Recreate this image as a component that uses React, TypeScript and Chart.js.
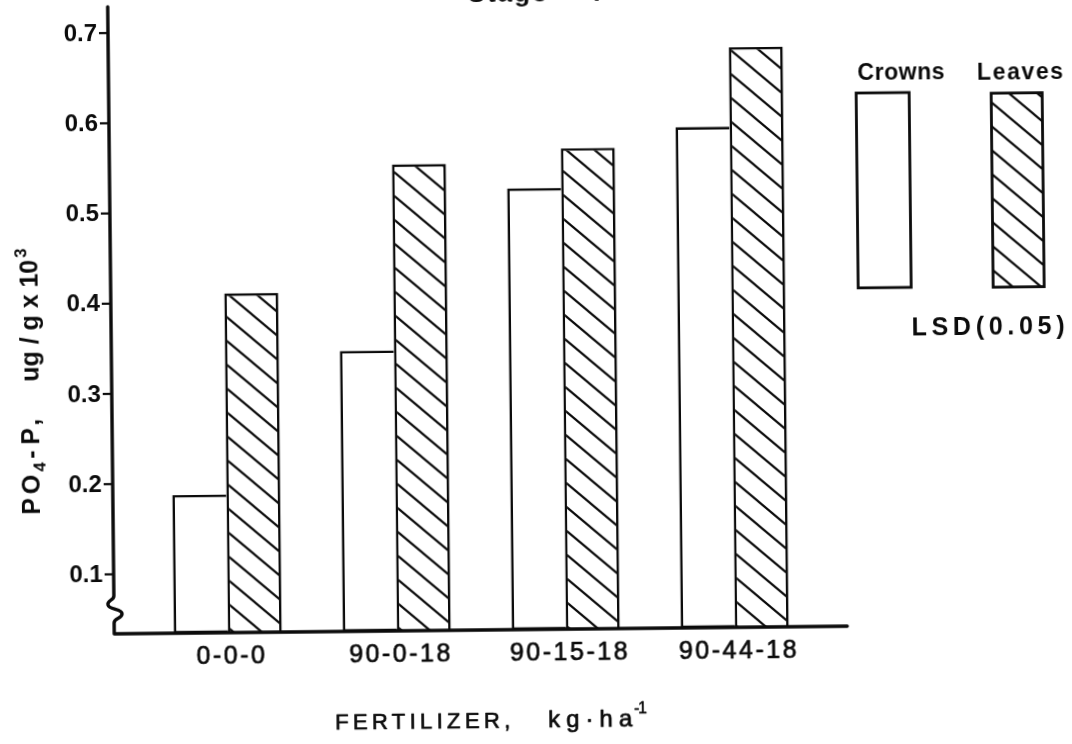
import { useEffect, useRef } from 'react';
import { Chart, registerables } from 'chart.js';

Chart.register(...registerables);

// Fertilizer treatments (N-P-K, kg/ha)
const CATEGORIES = ['0-0-0', '90-0-18', '90-15-18', '90-44-18'];
// PO4-P concentration, ug/g x 10^3
const CROWNS = [0.187, 0.345, 0.523, 0.589];
const LEAVES = [0.41, 0.551, 0.567, 0.677];
const SERIES = ['Crowns', 'Leaves'];
// Least significant difference (0.05) for each tissue
const LSD_05 = [0.216, 0.215];
const Y_TICKS = [0.1, 0.2, 0.3, 0.4, 0.5, 0.6, 0.7];
const Y_MIN = 0.034;
const Y_MAX = 0.729;

const INK = '#0b0b0b';
const FONT = '"Liberation Sans", "DejaVu Sans", sans-serif';

function hatchPattern(): CanvasPattern {
  const w = 28;
  const h = 24;
  const c = document.createElement('canvas');
  c.width = w;
  c.height = h;
  const g = c.getContext('2d')!;
  g.fillStyle = '#ffffff';
  g.fillRect(0, 0, w, h);
  g.strokeStyle = INK;
  g.lineWidth = 2.2;
  for (let k = -1; k <= 1; k++) {
    g.beginPath();
    g.moveTo(-w, -h + k * h);
    g.lineTo(2 * w, 2 * h + k * h);
    g.stroke();
  }
  return g.createPattern(c, 'repeat')!;
}

// Draws text spread by letter spacing so that it spans a given width.
function spaced(
  ctx: CanvasRenderingContext2D,
  text: string,
  x: number,
  y: number,
  width: number,
  align: 'left' | 'center' | 'right',
  weight = 0
) {
  ctx.save();
  (ctx as any).letterSpacing = '0px';
  const natural = ctx.measureText(text).width;
  const n = [...text].length;
  const ls = n > 1 ? (width - natural) / (n - 1) : 0;
  (ctx as any).letterSpacing = `${ls}px`;
  const left = align === 'left' ? x : align === 'center' ? x - width / 2 : x - width;
  ctx.textAlign = 'left';
  ctx.fillText(text, left, y);
  if (weight > 0) {
    ctx.lineWidth = weight;
    ctx.strokeStyle = ctx.fillStyle;
    ctx.strokeText(text, left, y);
  }
  ctx.restore();
}

const paperPlugin = {
  id: 'paper',
  beforeDraw(chart: any) {
    const { ctx, width, height } = chart;
    ctx.save();
    ctx.fillStyle = '#ffffff';
    ctx.fillRect(0, 0, width, height);
    ctx.restore();
  },
};

const makeFigurePlugin = (hatch: CanvasPattern) => ({
  id: 'figure',
  afterDatasetsDraw(chart: any) {
    const { ctx, scales, chartArea } = chart;
    const xs = scales.x;
    const ys = scales.y;
    const bottom = chartArea.bottom;
    const ax = 111;

    ctx.save();
    ctx.strokeStyle = INK;
    ctx.fillStyle = INK;

    // axes, with a break mark on the value axis
    ctx.lineWidth = 3.4;
    ctx.lineJoin = 'round';
    ctx.lineCap = 'round';
    ctx.beginPath();
    ctx.moveTo(ax, 3);
    ctx.lineTo(ax, 592);
    ctx.bezierCurveTo(ax, 597, 104, 596, 105, 601);
    ctx.bezierCurveTo(106, 606, 119, 605, 119, 610);
    ctx.bezierCurveTo(119, 615, ax, 614, ax, 619);
    ctx.lineTo(ax, bottom);
    ctx.lineTo(844, bottom);
    ctx.stroke();

    // value ticks
    ctx.lineWidth = 2.2;
    ctx.lineCap = 'butt';
    ctx.font = `bold 24px ${FONT}`;
    ctx.textAlign = 'right';
    ctx.textBaseline = 'middle';
    Y_TICKS.forEach((v) => {
      const py = ys.getPixelForValue(v);
      ctx.beginPath();
      ctx.moveTo(102, py);
      ctx.lineTo(ax, py);
      ctx.stroke();
      ctx.fillText(v.toFixed(1), 100, py + 1);
    });

    // category labels
    ctx.font = `25px ${FONT}`;
    ctx.textAlign = 'center';
    ctx.textBaseline = 'middle';
    ctx.lineWidth = 0.7;
    (ctx as any).letterSpacing = '2.5px';
    CATEGORIES.forEach((c, i) => {
      const px = xs.getPixelForValue(i) + 4;
      ctx.fillText(c, px, 654);
      ctx.strokeText(c, px, 654);
    });
    (ctx as any).letterSpacing = '0px';

    // x title
    ctx.textBaseline = 'alphabetic';
    ctx.font = `22px ${FONT}`;
    spaced(ctx, 'FERTILIZER,', 331, 728, 175, 'left', 0.7);
    ctx.font = `24px ${FONT}`;
    spaced(ctx, 'kg\u00b7ha', 544, 728, 84, 'left', 0.7);
    ctx.font = `16px ${FONT}`;
    spaced(ctx, '-1', 630, 715, 13, 'left', 0.5);

    // y title (rotated, reads bottom to top)
    ctx.save();
    ctx.translate(31, 510);
    ctx.rotate(-Math.PI / 2);
    ctx.textBaseline = 'middle';
    ctx.font = `bold 25px ${FONT}`;
    spaced(ctx, 'PO', 0, 0, 40, 'left');
    ctx.font = `bold 17px ${FONT}`;
    spaced(ctx, '4', 43, 8, 10, 'left');
    ctx.font = `bold 25px ${FONT}`;
    spaced(ctx, '-P,', 56, 0, 40, 'left');
    spaced(ctx, 'ug / g x 10', 133, 0, 122, 'left');
    ctx.font = `bold 17px ${FONT}`;
    spaced(ctx, '3', 257, -9, 10, 'left');
    ctx.restore();

    // legend boxes double as LSD (0.05) bars
    const lsdPx = (v: number) => ys.getPixelForValue(Y_MIN) - ys.getPixelForValue(Y_MIN + v);
    ctx.font = `bold 23px ${FONT}`;
    ctx.textBaseline = 'middle';
    spaced(ctx, SERIES[0], 903.6, 77.4, 87, 'center');
    spaced(ctx, SERIES[1], 1022.6, 78.7, 86, 'center');
    ctx.lineWidth = 2.8;
    ctx.lineJoin = 'miter';
    ctx.fillStyle = '#ffffff';
    ctx.fillRect(858.5, 97, 53, lsdPx(LSD_05[0]));
    ctx.strokeRect(858.5, 97, 53, lsdPx(LSD_05[0]));
    ctx.fillStyle = hatch;
    ctx.fillRect(993.5, 98.6, 51, lsdPx(LSD_05[1]));
    ctx.strokeRect(993.5, 98.6, 51, lsdPx(LSD_05[1]));
    ctx.fillStyle = INK;
    ctx.font = `bold 25px ${FONT}`;
    spaced(ctx, 'LSD(0.05)', 988, 333, 153, 'center');

    // heading, mostly beyond the top edge
    ctx.font = `bold 26px ${FONT}`;
    ctx.textBaseline = 'alphabetic';
    spaced(ctx, 'Stage', 471, 2, 79, 'left');
    ctx.textAlign = 'center';
    ctx.fillText('I', 600, 2);

    ctx.restore();
  },
});

export default function App() {
  const ref = useRef<HTMLCanvasElement>(null);

  useEffect(() => {
    const canvas = ref.current!;
    const hatch = hatchPattern();
    const chart = new Chart(canvas, {
      type: 'bar',
      data: {
        labels: CATEGORIES,
        datasets: [
          {
            label: SERIES[0],
            data: CROWNS,
            backgroundColor: '#ffffff',
            borderColor: INK,
            borderWidth: 2.6,
            borderSkipped: 'right',
            base: Y_MIN,
          } as any,
          {
            label: SERIES[1],
            data: LEAVES,
            backgroundColor: hatch,
            borderColor: INK,
            borderWidth: 2.6,
            borderSkipped: 'bottom',
            base: Y_MIN,
          } as any,
        ],
      },
      options: {
        responsive: false,
        animation: false,
        devicePixelRatio: 1,
        layout: { padding: { left: 140, right: 256, top: 3, bottom: 114 } },
        datasets: { bar: { categoryPercentage: 0.64, barPercentage: 1 } },
        scales: {
          x: { display: false },
          y: { display: false, min: Y_MIN, max: Y_MAX },
        },
        plugins: { legend: { display: false }, tooltip: { enabled: false } },
      },
      plugins: [paperPlugin, makeFigurePlugin(hatch)],
    });
    return () => chart.destroy();
  }, []);

  return (
    <div style={{ position: 'fixed', left: 0, top: 0, width: 1072, height: 744, background: '#ffffff', overflow: 'hidden' }}>
      <canvas
        ref={ref}
        width={1072}
        height={744}
        style={{
          position: 'absolute',
          left: 0,
          top: 0,
          transform: 'rotate(-0.6deg)',
          transformOrigin: '480px 320px',
        }}
      />
    </div>
  );
}
